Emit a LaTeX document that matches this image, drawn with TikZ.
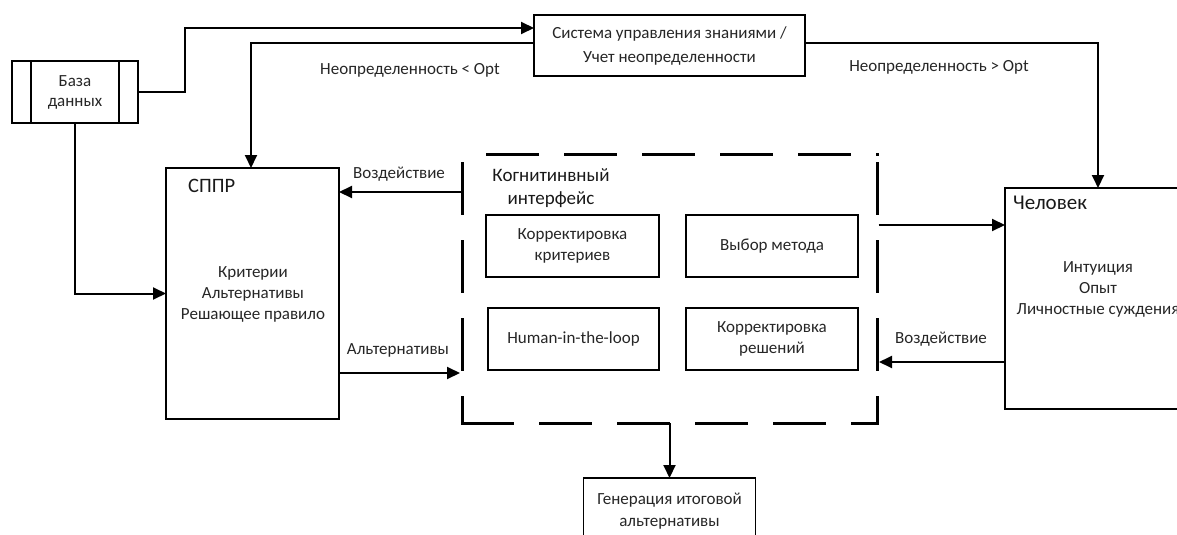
\documentclass[tikz,border=0pt]{standalone}
\usepackage{fontspec}
\setmainfont{Carlito}
\usetikzlibrary{arrows.meta}
\begin{document}
\begin{tikzpicture}[x=1pt,y=-1pt,
  box/.style={draw, line width=1.5pt, inner sep=0pt, outer sep=0pt},
  conn/.style={line width=2pt, -{Triangle[length=13pt,width=12pt]}},
  txt/.style={font=\fontsize{17}{21}\selectfont, text=black!85, align=center, inner sep=0pt},
  ttl/.style={font=\fontsize{19}{23}\selectfont, text=black!90, align=center, inner sep=0pt},
  dashedline/.style={line width=3pt, line cap=rect, dash pattern=on 50pt off 28pt},
]
\useasboundingbox (0,0) rectangle (1177,535);

% boxes
\node[box, minimum width=126pt, minimum height=62pt] (db) at (75,92) {};
\draw[line width=1.5pt] ([xshift=19pt]db.north west) -- ([xshift=19pt]db.south west);
\draw[line width=1.5pt] ([xshift=-19pt]db.north east) -- ([xshift=-19pt]db.south east);
\node[txt, font=\fontsize{17}{20}\selectfont] (dbt) at (75,92) {База\\данных};

\node[box, minimum width=271pt, minimum height=61pt, txt, font=\fontsize{17}{24}\selectfont] (ks) at (669.5,45.5) {Система управления знаниями /\\Учет неопределенности};

\node[box, minimum width=173pt, minimum height=251pt] (sppr) at (252.5,293.5) {};
\node[ttl, font=\fontsize{20.5}{24}\selectfont, anchor=west] (spprt) at (188,186) {СППР};
\node[txt] (spprb) at (253,294.5) {Критерии\\Альтернативы\\Решающее правило};

\node[minimum width=415pt, minimum height=269pt, inner sep=0pt, outer sep=0pt] (cog) at (669.5,288.5) {};
\draw[dashedline, dash phase=0pt] (cog.south west) -- (cog.south east);
\draw[dashedline, dash phase=24pt] (cog.south west) -- (cog.north west);
\draw[dashedline, dash phase=24pt] (cog.south east) -- (cog.north east);
\draw[dashedline, dash phase=53pt] (cog.north west) -- (cog.north east);
\node[ttl] (cogt) at (551,188.5) {Когнитинвный\\интерфейс};

\node[box, txt, minimum width=173pt, minimum height=62pt] (kk) at (572.5,246) {Корректировка\\критериев};
\node[box, txt, minimum width=172pt, minimum height=62pt] (vm) at (772,246) {Выбор метода};
\node[box, txt, minimum width=171pt, minimum height=62pt] (hl) at (573.5,339) {Human-in-the-loop};
\node[box, txt, minimum width=172pt, minimum height=62pt] (kr) at (772,339) {Корректировка\\решений};

\node[box, minimum width=180pt, minimum height=221pt] (ch) at (1095,298.5) {};
\node[ttl, font=\fontsize{21}{25}\selectfont, anchor=west] (cht) at (1013,203) {Человек};
\node[txt] (chb) at (1098,289.5) {Интуиция\\Опыт\\Личностные суждения};

\node[box, txt, font=\fontsize{17}{22}\selectfont, minimum width=172pt, minimum height=67pt] (gen) at (669.5,511.5) {Генерация итоговой\\альтернативы};

% helper coordinates
\coordinate (b1) at (185,28);
\coordinate (b2) at (251,43);
\coordinate (b3) at (1098,43);
\coordinate (y192) at (0,192);
\coordinate (y373) at (0,373);
\coordinate (y225) at (0,225);
\coordinate (y362) at (0,362);

% connectors
\draw[conn] (db.east) -| (b1) -- (b1 -| ks.west);
\draw[conn] (b2 -| ks.west) -- (b2) -- (b2 |- sppr.north);
\draw[conn] (b3 -| ks.east) -- (b3) -- (b3 |- ch.north);
\draw[conn] (db.south) |- (sppr.west);
\draw[conn] ([xshift=-1.5pt]cog.west |- y192) -- (sppr.east |- y192);
\draw[conn] (sppr.east |- y373) -- ([xshift=-2pt]cog.west |- y373);
\draw[conn] ([xshift=1.5pt]cog.east |- y225) -- (ch.west |- y225);
\draw[conn] (ch.west |- y362) -- ([xshift=2pt]cog.east |- y362);
\draw[conn] (cog.south) -- (gen.north);

% labels
\node[txt] (l1) at (410,70) {Неопределенность < Opt};
\node[txt] (l2) at (939,67) {Неопределенность > Opt};
\node[txt] (l3) at (399,174) {Воздействие};
\node[txt] (l4) at (398,350) {Альтернативы};
\node[txt] (l5) at (941,339) {Воздействие};
\end{tikzpicture}
\end{document}
